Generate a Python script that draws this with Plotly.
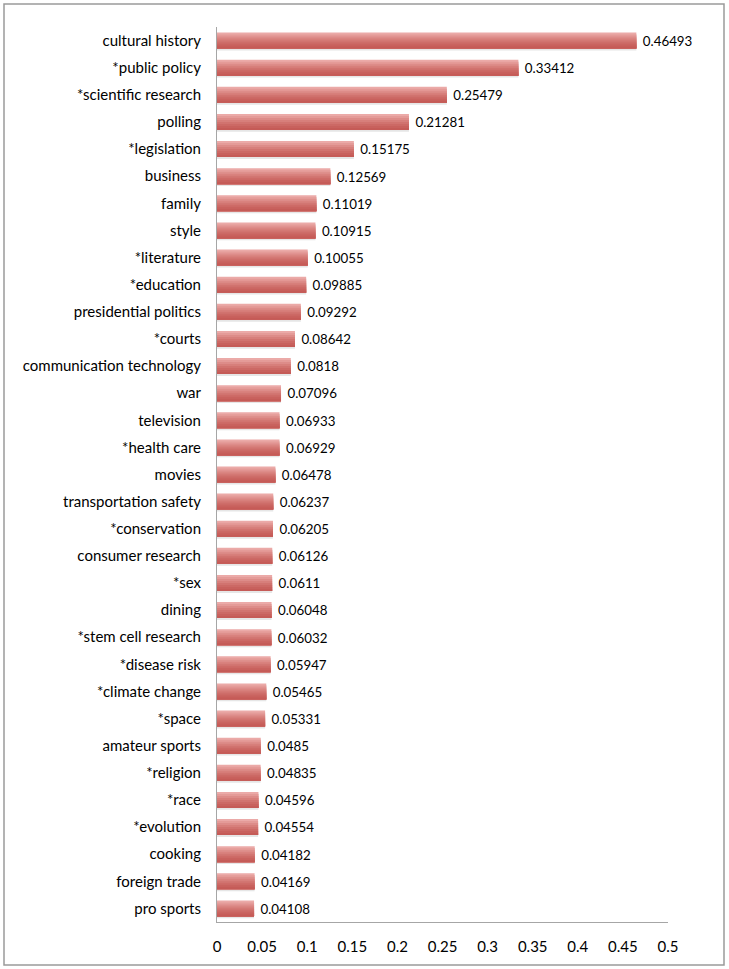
import plotly.graph_objects as go

categories = [
    "cultural history", "*public policy", "*scientific research", "polling",
    "*legislation", "business", "family", "style", "*literature", "*education",
    "presidential politics", "*courts", "communication technology", "war",
    "television", "*health care", "movies", "transportation safety",
    "*conservation", "consumer research", "*sex", "dining", "*stem cell research",
    "*disease risk", "*climate change", "*space", "amateur sports", "*religion",
    "*race", "*evolution", "cooking", "foreign trade", "pro sports",
]
values = [
    0.46493, 0.33412, 0.25479, 0.21281, 0.15175, 0.12569, 0.11019, 0.10915,
    0.10055, 0.09885, 0.09292, 0.08642, 0.0818, 0.07096, 0.06933, 0.06929,
    0.06478, 0.06237, 0.06205, 0.06126, 0.0611, 0.06048, 0.06032, 0.05947,
    0.05465, 0.05331, 0.0485, 0.04835, 0.04596, 0.04554, 0.04182, 0.04169,
    0.04108,
]
labels = [str(v) for v in values]
x_ticks = [0, 0.05, 0.1, 0.15, 0.2, 0.25, 0.3, 0.35, 0.4, 0.45, 0.5]
x_tick_text = ["0", "0.05", "0.1", "0.15", "0.2", "0.25", "0.3", "0.35", "0.4", "0.45", "0.5"]

FONT = "Lato"
FS = 15
bar_w = 0.59
# simulated vertical gradient: light on top, darker at bottom
bands = ["#ebaaa8", "#e49b98", "#dd8c89", "#d77f7b", "#d1736f", "#cc6965", "#c8615d", "#c55b57"]

fig = go.Figure()
# soft shadow
fig.add_trace(go.Bar(
    y=categories, x=values, orientation="h",
    marker=dict(color="rgba(140,140,140,0.22)", line=dict(width=0)),
    width=bar_w, offset=-bar_w / 2 + 0.07, hoverinfo="skip", showlegend=False,
))
n = len(bands)
bw = bar_w / n
for i, c in enumerate(bands):
    kw = {}
    if i == 0:
        kw = dict(text=labels, texttemplate="\u00a0%{text}", textposition="outside",
                  cliponaxis=False,
                  textfont=dict(family=FONT, size=FS, color="#000000"))
    fig.add_trace(go.Bar(
        y=categories, x=values, orientation="h",
        marker=dict(color=c, line=dict(width=0)),
        width=bar_w - i * bw, offset=-bar_w / 2 + i * bw,
        hoverinfo="skip", showlegend=False, **kw,
    ))

fig.update_layout(
    width=729, height=969,
    barmode="overlay",
    paper_bgcolor="white", plot_bgcolor="white",
    margin=dict(l=217, r=61, t=27, b=47),
    font=dict(family=FONT, size=FS, color="#000000"),
    xaxis=dict(
        range=[0, 0.5], tickvals=x_ticks, ticktext=x_tick_text,
        showgrid=False, zeroline=False, showline=True, linecolor="#a6a6a6",
        linewidth=1, ticks="", ticklabelstandoff=11,
        tickfont=dict(family=FONT, size=FS, color="#000000"),
    ),
    yaxis=dict(
        autorange="reversed", showgrid=False, zeroline=False, showline=True,
        linecolor="#a6a6a6", linewidth=1, ticks="", ticklabelstandoff=12,
        tickfont=dict(family=FONT, size=FS, color="#000000"),
    ),
    shapes=[dict(
        type="rect", xref="paper", yref="paper",
        x0=(4 - 217) / 451, x1=(724 - 217) / 451,
        y0=(922 - 965) / 895, y1=(922 - 4) / 895,
        line=dict(color="#9a9a9a", width=1.5), fillcolor="rgba(0,0,0,0)",
        layer="below",
    )],
)

fig.write_html("out.html", config={"displayModeBar": False},
               post_script="document.body.style.margin='0px';")
